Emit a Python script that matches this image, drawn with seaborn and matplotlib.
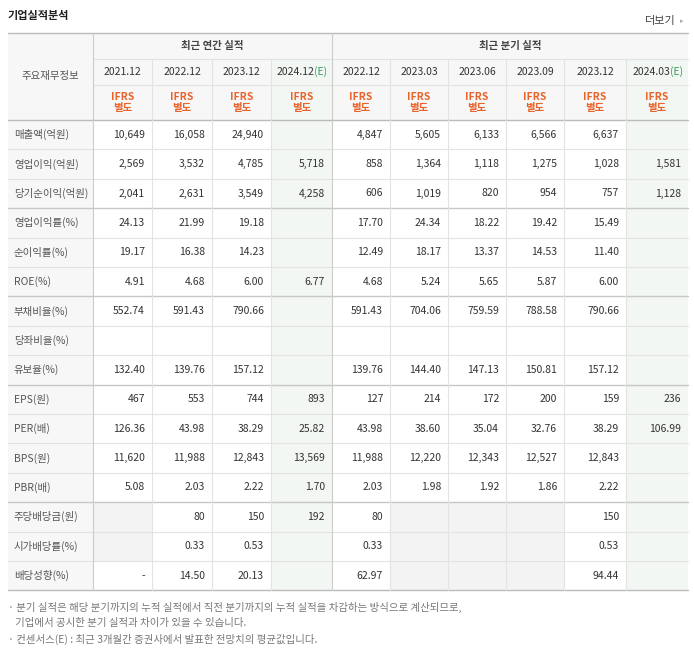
import matplotlib
matplotlib.use("Agg")
import matplotlib.pyplot as plt
from matplotlib.patches import Rectangle
import seaborn as sns

sns.set_theme(style="white")
plt.rcParams['font.family'] = ['Noto Sans CJK KR', 'DejaVu Sans']

# --- data ---
annual_periods = ["2021.12", "2022.12", "2023.12", "2024.12"]
quarter_periods = ["2022.12", "2023.03", "2023.06", "2023.09", "2023.12", "2024.03"]
row_labels = ["매출액(억원)", "영업이익(억원)", "당기순이익(억원)", "영업이익률(%)", "순이익률(%)",
              "ROE(%)", "부채비율(%)", "당좌비율(%)", "유보율(%)", "EPS(원)", "PER(배)",
              "BPS(원)", "PBR(배)", "주당배당금(원)", "시가배당률(%)", "배당성향(%)"]
annual_vals = [
    ["10,649", "16,058", "24,940", None],
    ["2,569", "3,532", "4,785", "5,718"],
    ["2,041", "2,631", "3,549", "4,258"],
    ["24.13", "21.99", "19.18", None],
    ["19.17", "16.38", "14.23", None],
    ["4.91", "4.68", "6.00", "6.77"],
    ["552.74", "591.43", "790.66", None],
    [None, None, None, None],
    ["132.40", "139.76", "157.12", None],
    ["467", "553", "744", "893"],
    ["126.36", "43.98", "38.29", "25.82"],
    ["11,620", "11,988", "12,843", "13,569"],
    ["5.08", "2.03", "2.22", "1.70"],
    [None, "80", "150", "192"],
    [None, "0.33", "0.53", None],
    ["-", "14.50", "20.13", None],
]
quarter_vals = [
    ["4,847", "5,605", "6,133", "6,566", "6,637", None],
    ["858", "1,364", "1,118", "1,275", "1,028", "1,581"],
    ["606", "1,019", "820", "954", "757", "1,128"],
    ["17.70", "24.34", "18.22", "19.42", "15.49", None],
    ["12.49", "18.17", "13.37", "14.53", "11.40", None],
    ["4.68", "5.24", "5.65", "5.87", "6.00", None],
    ["591.43", "704.06", "759.59", "788.58", "790.66", None],
    [None, None, None, None, None, None],
    ["139.76", "144.40", "147.13", "150.81", "157.12", None],
    ["127", "214", "172", "200", "159", "236"],
    ["43.98", "38.60", "35.04", "32.76", "38.29", "106.99"],
    ["11,988", "12,220", "12,343", "12,527", "12,843", None],
    ["2.03", "1.98", "1.92", "1.86", "2.22", None],
    ["80", None, None, None, "150", None],
    ["0.33", None, None, None, "0.53", None],
    ["62.97", None, None, None, "94.44", None],
]
estimate_cols = [3, 9]          # 2024.12(E), 2024.03(E)
group_lines = [3, 6, 9, 13]     # darker separators before these rows
footnotes = ["· 분기 실적은 해당 분기까지의 누적 실적에서 직전 분기까지의 누적 실적을 차감하는 방식으로 계산되므로,",
             "   기업에서 공시한 분기 실적과 차이가 있을 수 있습니다.",
             "· 컨센서스(E) : 최근 3개월간 증권사에서 발표한 전망치의 평균값입니다."]

# --- layout (pixels) ---
W, H = 694, 648
col_x = [8, 93, 152, 212, 271, 332, 390, 448, 506, 564, 626, 688]
y_top, y_grp, y_year, y_ifrs = 33, 59, 85, 120
row_h = 29.4
n_rows = len(row_labels)
y_bot = y_ifrs + row_h * n_rows

fig = plt.figure(figsize=(W / 100, H / 100), dpi=100)
ax = fig.add_axes([0, 0, 1, 1])
ax.set_xlim(0, W)
ax.set_ylim(H, 0)
ax.axis("off")

hdr_bg = "#f7f7f7"
est_bg = "#f2f7f3"
gray_bg = "#f3f3f3"
line_c = "#e3e3e3"
fs = 7.5

def rect(x0, y0, x1, y1, c):
    ax.add_patch(Rectangle((x0, y0), x1 - x0, y1 - y0, facecolor=c, edgecolor="none", zorder=0))

# header backgrounds
rect(col_x[0], y_top, col_x[-1], y_ifrs, hdr_bg)
rect(col_x[0], y_ifrs, col_x[1], y_bot, hdr_bg)
for c in estimate_cols:
    rect(col_x[c + 1], y_grp, col_x[c + 2], y_bot, est_bg)

# data cells
for r in range(n_rows):
    vals = annual_vals[r] + quarter_vals[r]
    y0 = y_ifrs + r * row_h
    yc = y0 + row_h / 2
    ax.text(col_x[0] + 6, yc, row_labels[r], ha="left", va="center", fontsize=fs, color="#555555")
    for c, v in enumerate(vals):
        x0, x1 = col_x[c + 1], col_x[c + 2]
        if v is None and r >= 13 and c not in estimate_cols:
            rect(x0, y0, x1, y0 + row_h, gray_bg)
        if v is not None:
            ax.text(x1 - 7, yc, v, ha="right", va="center", fontsize=fs, color="#333333")

# header texts
ax.text((col_x[0] + col_x[1]) / 2, (y_top + y_ifrs) / 2, "주요재무정보", ha="center", va="center",
        fontsize=fs, color="#555555")
ax.text((col_x[1] + col_x[5]) / 2, (y_top + y_grp) / 2, "최근 연간 실적", ha="center", va="center",
        fontsize=fs, color="#444444", fontweight="bold")
ax.text((col_x[5] + col_x[-1]) / 2, (y_top + y_grp) / 2, "최근 분기 실적", ha="center", va="center",
        fontsize=fs, color="#444444", fontweight="bold")
periods = annual_periods + quarter_periods
for c, p in enumerate(periods):
    xc = (col_x[c + 1] + col_x[c + 2]) / 2
    yc = (y_grp + y_year) / 2
    if c in estimate_cols:
        ax.text(xc + 13, yc, "(E)", ha="left", va="center", fontsize=fs, color="#3a9a5a")
        ax.text(xc + 13, yc, p, ha="right", va="center", fontsize=fs, color="#333333")
    else:
        ax.text(xc, yc, p, ha="center", va="center", fontsize=fs, color="#333333")
    ax.text(xc, (y_year + y_ifrs) / 2, "IFRS\n별도", ha="center", va="center", fontsize=7.5,
            color="#e8642c", fontweight="bold", linespacing=1.2)

# grid lines
ax.plot([col_x[0], col_x[-1]], [y_top, y_top], color="#bbbbbb", lw=1)
ax.plot([col_x[1], col_x[-1]], [y_grp, y_grp], color=line_c, lw=0.8)
ax.plot([col_x[1], col_x[-1]], [y_year, y_year], color=line_c, lw=0.8)
ax.plot([col_x[0], col_x[-1]], [y_ifrs, y_ifrs], color="#bbbbbb", lw=1)
for r in range(1, n_rows):
    y = y_ifrs + r * row_h
    grp = r in group_lines
    ax.plot([col_x[0], col_x[-1]], [y, y], color="#c8c8c8" if grp else line_c, lw=1 if grp else 0.8)
ax.plot([col_x[0], col_x[-1]], [y_bot, y_bot], color="#bbbbbb", lw=1)
for i, x in enumerate(col_x[1:-1], start=1):
    ys = y_top if i in (1, 5) else y_grp
    ax.plot([x, x], [ys, y_bot], color="#cccccc" if i in (1, 5) else line_c, lw=0.8)

# titles and notes
ax.text(8, 15, "기업실적분석", ha="left", va="center", fontsize=8, fontweight="bold", color="#222222")
ax.text(676, 21, "더보기", ha="right", va="center", fontsize=8, color="#444444")
ax.text(680, 21, "▸", ha="left", va="center", fontsize=5, color="#aaaaaa", family="DejaVu Sans")
for i, t in enumerate(footnotes):
    ax.text(8, 607 + i * 16, t, ha="left", va="center", fontsize=fs, color="#777777")

fig.savefig("out.png", dpi=100)
